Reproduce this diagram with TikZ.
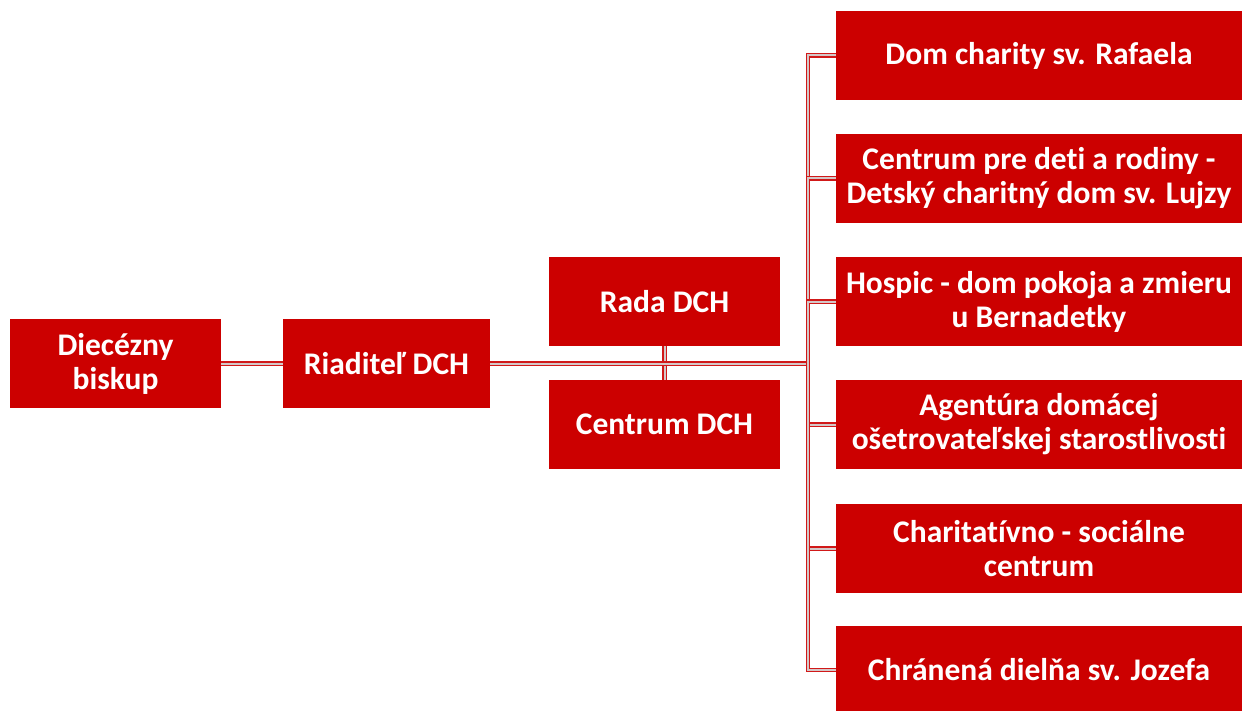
\documentclass[tikz,border=0pt]{standalone}
\usepackage{fontspec}
\setmainfont{Carlito}[Ligatures=NoCommon]
\definecolor{dchred}{HTML}{CC0000}
\definecolor{linegrey}{HTML}{D4C8C8}
\begin{document}
\begin{tikzpicture}[x=1pt,y=-1pt]
        \tikzstyle{unit}=[rectangle,fill=dchred,text=white,font=\fontsize{31.5}{34}\selectfont\bfseries,align=center,minimum height=89pt,inner sep=0pt]
        \tikzstyle{edge}=[draw=dchred!90,line width=1.3pt,double=linegrey,double distance=2pt]
        \useasboundingbox (0,0) rectangle (1244,711);
       \begin{scope}
         \node [unit,minimum width=211pt] (biskup) at (115.5,363.5) {Diecézny\\biskup};
         \node [unit,minimum width=207pt] (riaditel) at (386.5,363.5) {Riaditeľ DCH};
         \node [unit,minimum width=231pt] (rada) at (664.5,301.5) {Rada DCH};
         \node [unit,minimum width=231pt] (centrum) at (664.5,424.5) {Centrum DCH};

         \node [unit,minimum width=406pt] (rafael) at (1039,55.5) {Dom charity sv. Rafaela};
         \node [unit,minimum width=406pt] (deti) at (1039,178.5) {Centrum pre deti a rodiny -\\Detský charitný dom sv. Lujzy};
         \node [unit,minimum width=406pt] (hospic) at (1039,301.5) {Hospic - dom pokoja a zmieru\\u Bernadetky};
         \node [unit,minimum width=406pt] (agentura) at (1039,424.5) {Agentúra domácej\\ošetrovateľskej starostlivosti};
         \node [unit,minimum width=406pt] (socialne) at (1039,548.5) {Charitatívno - sociálne\\centrum};
         \node [unit,minimum width=406pt] (dielna) at (1039,670) {Chránená dielňa sv. Jozefa};

         \coordinate (bus) at (808,363.5);

         \path[edge] (biskup) -- (riaditel);
         \path[edge] (rada) -- (centrum);
         \path[edge] (riaditel) -- (bus);
         \foreach \n in {rafael,deti,hospic,agentura,socialne,dielna}
            \path[edge] (bus) |- (\n.west);
        \end{scope}
      \end{tikzpicture}
\end{document}
